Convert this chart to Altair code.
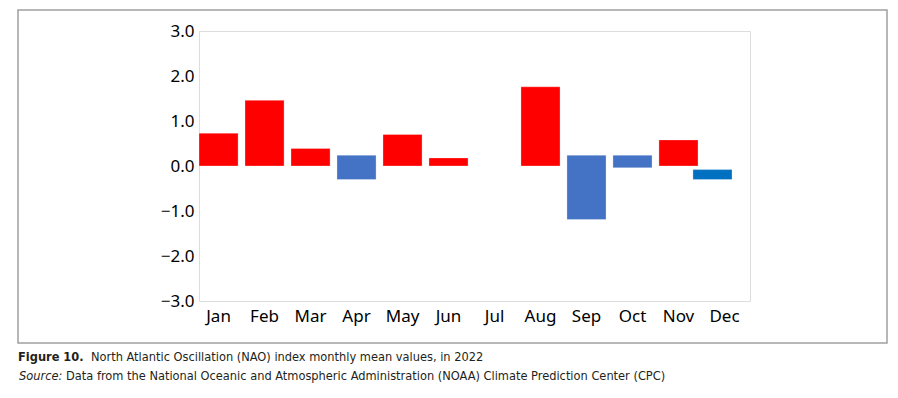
import altair as alt
import pandas as pd

months = ["Jan", "Feb", "Mar", "Apr", "May", "Jun", "Jul", "Aug", "Sep", "Oct", "Nov", "Dec"]
bar_months = ["Jan", "Feb", "Mar", "Apr", "May", "Jun", "Aug", "Sep", "Oct", "Nov"]
bar_top = [0.73, 1.46, 0.39, 0.24, 0.70, 0.18, 1.76, 0.24, 0.24, 0.58]
bar_bottom = [0.0, 0.0, 0.0, -0.30, 0.0, 0.0, 0.0, -1.19, -0.04, 0.0]
bar_sign = ["pos", "pos", "pos", "neg", "pos", "pos", "pos", "neg", "neg", "pos"]
dec_month = ["Dec"]
dec_top = [-0.08]
dec_bottom = [-0.30]

caption_bold = "Figure 10."
caption_rest = "North Atlantic Oscillation (NAO) index monthly mean values, in 2022"
source_italic = "Source:"
source_rest = "Data from the National Oceanic and Atmospheric Administration (NOAA) Climate Prediction Center (CPC)"

df = pd.DataFrame({"month": bar_months, "top": bar_top, "bottom": bar_bottom, "sign": bar_sign})
df_dec = pd.DataFrame({"month": dec_month, "top": dec_top, "bottom": dec_bottom})
one = pd.DataFrame({"k": [0]})

AX_FONT = "Noto Sans"
CAP_FONT = "DejaVu Sans Condensed, Liberation Sans, sans-serif"

xscale = alt.Scale(domain=months, paddingInner=0.15, paddingOuter=0.065, align=0)
yscale = alt.Scale(domain=[-3, 3], nice=False, zero=False)

xenc = alt.X("month:N", scale=xscale, sort=months, title=None,
             axis=alt.Axis(labelAngle=0, ticks=False, domain=False, labelFont=AX_FONT,
                           labelFontSize=17, labelColor="black", labelPadding=7))
yenc = alt.Y("top:Q", scale=yscale, title=None,
             axis=alt.Axis(values=[-3, -2, -1, 0, 1, 2, 3], format=".1f",
                           labelExpr="replace(datum.label, '-', '–')",
                           ticks=False, domain=False, grid=False, labelFont=AX_FONT,
                           labelFontSize=17, labelColor="black", labelPadding=5))

bars = alt.Chart(df).mark_bar(stroke="white", strokeWidth=0.6, strokeOpacity=0.5).encode(
    x=xenc,
    y=yenc,
    y2="bottom:Q",
    color=alt.Color("sign:N", scale=alt.Scale(domain=["pos", "neg"], range=["#FF0000", "#4472C4"]), legend=None),
)

dec = alt.Chart(df_dec).mark_bar(color="#0070C0", xOffset=-12, stroke="white", strokeWidth=0.6, strokeOpacity=0.5).encode(
    x=alt.X("month:N", scale=xscale, sort=months),
    y=alt.Y("top:Q", scale=yscale),
    y2="bottom:Q",
)

frame = alt.Chart(one).mark_rect(fill=None, stroke="#A0A0A0", strokeWidth=1.5).encode(
    x=alt.value(-181), x2=alt.value(688), y=alt.value(-21), y2=alt.value(312)
)

def txt(s, x, y, **kw):
    return alt.Chart(one).mark_text(text=s, align="left", baseline="alphabetic", font=CAP_FONT,
                                    fontSize=12.7, color="#231F20", **kw).encode(
        x=alt.value(x), y=alt.value(y))

t1 = txt(caption_bold, -181, 330, fontWeight="bold")
t2 = txt(caption_rest, -108, 330)
t3 = txt(source_italic, -180, 349, fontStyle="italic")
t4 = txt(source_rest, -133, 349)

chart = alt.layer(bars, dec, frame, t1, t2, t3, t4).properties(
    width=551, height=270,
    padding={"left": 191, "top": 23, "right": 138, "bottom": 89},
    autosize=alt.AutoSizeParams(type="none"),
).configure_view(stroke="#B8B8B8", strokeWidth=1.2).configure(background="white")

chart.save("out.html", embed_options={"renderer": "svg", "actions": False})
